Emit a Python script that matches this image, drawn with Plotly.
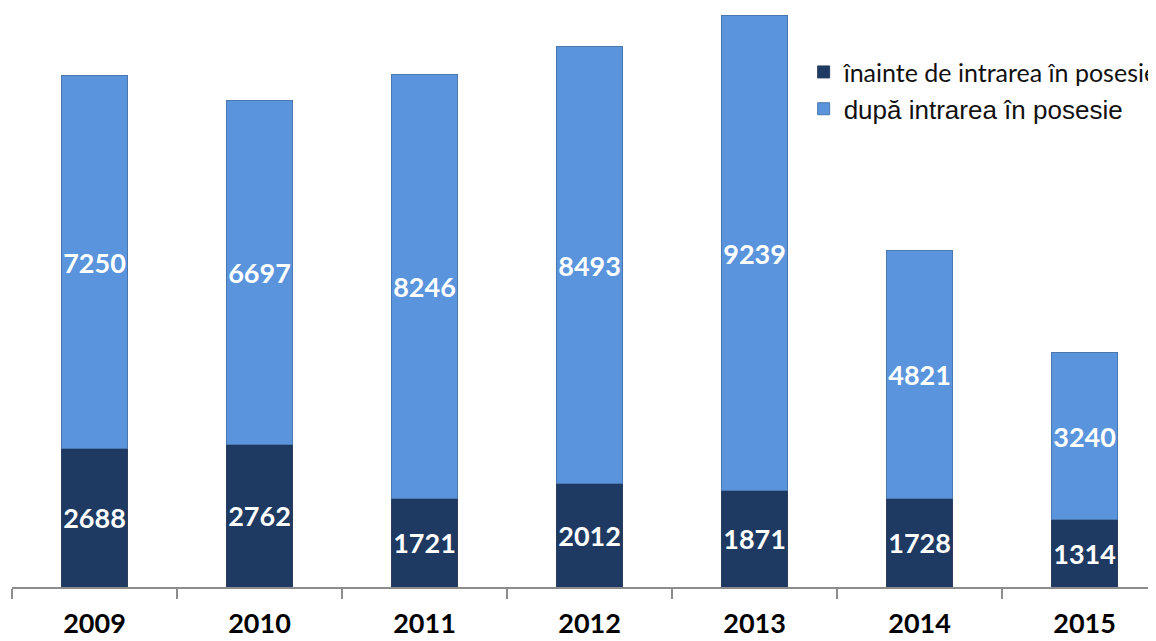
import plotly.graph_objects as go

years = ['2009', '2010', '2011', '2012', '2013', '2014', '2015']
inainte = [2688, 2762, 1721, 2012, 1871, 1728, 1314]
dupa = [7250, 6697, 8246, 8493, 9239, 4821, 3240]

dark = '#1e3a62'
light = '#5a94dc'
label_font = dict(family='Lato', size=27, color='white', weight='bold')

fig = go.Figure()
fig.add_trace(go.Bar(
    x=years, y=inainte,
    name='<span style="font-family:Lato;font-size:25px">înainte de intrarea în posesie</span>',
    legendgroup='a',
    marker=dict(color=dark, line=dict(color='#2b3f5c', width=1)),
    text=inainte, textposition='inside', insidetextanchor='middle',
    textangle=0, constraintext='none', textfont=label_font))
fig.add_trace(go.Bar(
    x=years, y=dupa,
    name='<span style="font-family:Liberation Sans">după intrarea în posesie</span>',
    legendgroup='b',
    marker=dict(color=light, line=dict(color='#4a77ad', width=1)),
    text=dupa, textposition='inside', insidetextanchor='middle',
    textangle=0, constraintext='none', textfont=label_font))

# page body adds 8px offset, so the figure is a bit smaller than the window
fig.update_layout(
    barmode='stack',
    bargap=0.6,
    width=1148, height=633,
    margin=dict(l=4, r=0, t=0, b=54, autoexpand=False),
    plot_bgcolor='white',
    paper_bgcolor='white',
    showlegend=True,
    legend=dict(x=0.692, y=0.93, xanchor='left', yanchor='top',
                traceorder='normal', tracegroupgap=5,
                font=dict(size=26, color='#111'),
                bgcolor='rgba(0,0,0,0)'),
    uniformtext=dict(minsize=27, mode='show'),
    xaxis=dict(range=[-0.5, 6.433], showline=True, linecolor='#8c8c8c',
               linewidth=2, ticks='outside', tickson='boundaries',
               ticklen=10, tickcolor='#8c8c8c', tickwidth=2,
               ticklabelstandoff=12,
               tickfont=dict(family='Lato', size=27, color='black',
                             weight='bold'),
               showgrid=False),
    yaxis=dict(range=[0, 11260], visible=False, showgrid=False),
)

fig.write_html("out.html")
